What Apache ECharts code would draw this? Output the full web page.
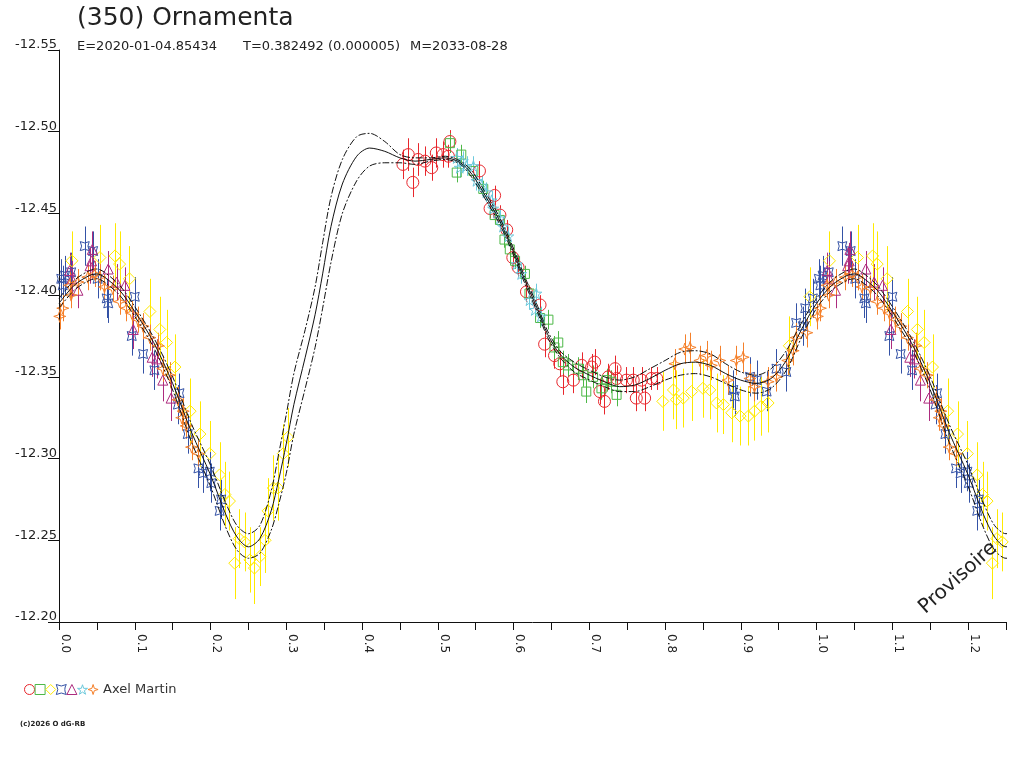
<!DOCTYPE html>
<html><head><meta charset="utf-8">
<script src="https://cdn.jsdelivr.net/npm/echarts@6/dist/echarts.min.js"></script>
<style>html,body{margin:0;padding:0;background:#fff}#c{width:1024px;height:768px}</style>
</head><body><div id="c"></div>
<script>
// ---------- fitted light curve (phase 0..1) ----------
const fitPhase = [0,0.02,0.04,0.05,0.06,0.08,0.10,0.125,0.15,0.175,
  0.20,0.22,0.235,0.25,0.265,0.28,0.29,0.30,0.31,0.325,
  0.338,0.348,0.359,0.374,0.393,0.41,0.43,0.45,0.47,0.49,
  0.51,0.53,0.545,0.565,0.58,0.595,0.615,0.632,0.645,0.661,
  0.68,0.696,0.72,0.74,0.76,0.78,0.80,0.82,0.84,0.86,
  0.88,0.90,0.92,0.94,0.96,0.98,1.00];
const fitMag = [-12.395,-12.406,-12.412,-12.413,-12.411,-12.403,-12.390,-12.371,-12.346,-12.316,
  -12.290,-12.266,-12.252,-12.246,-12.251,-12.268,-12.287,-12.309,-12.333,-12.362,
  -12.388,-12.413,-12.442,-12.468,-12.485,-12.490,-12.488,-12.484,-12.482,-12.483,
  -12.484,-12.481,-12.474,-12.459,-12.447,-12.432,-12.409,-12.391,-12.376,-12.364,
  -12.356,-12.352,-12.347,-12.344,-12.345,-12.349,-12.354,-12.358,-12.359,-12.357,
  -12.352,-12.348,-12.346,-12.349,-12.360,-12.379,-12.395];
const fitUpper = [-12.398,-12.409,-12.415,-12.416,-12.414,-12.406,-12.393,-12.374,-12.350,-12.321,
  -12.296,-12.273,-12.259,-12.254,-12.259,-12.280,-12.303,-12.327,-12.352,-12.379,
  -12.405,-12.432,-12.460,-12.483,-12.497,-12.499,-12.494,-12.486,-12.484,-12.484,
  -12.485,-12.482,-12.476,-12.461,-12.449,-12.434,-12.411,-12.393,-12.378,-12.366,
  -12.359,-12.355,-12.350,-12.348,-12.350,-12.355,-12.360,-12.365,-12.366,-12.364,
  -12.358,-12.353,-12.351,-12.355,-12.366,-12.383,-12.398];
const fitLower = [-12.392,-12.403,-12.409,-12.410,-12.408,-12.400,-12.387,-12.368,-12.342,-12.310,
  -12.283,-12.258,-12.244,-12.239,-12.242,-12.256,-12.272,-12.291,-12.315,-12.343,
  -12.368,-12.392,-12.420,-12.450,-12.470,-12.479,-12.481,-12.481,-12.480,-12.482,
  -12.483,-12.480,-12.472,-12.457,-12.445,-12.430,-12.407,-12.389,-12.374,-12.362,
  -12.353,-12.349,-12.344,-12.341,-12.341,-12.344,-12.348,-12.351,-12.352,-12.350,
  -12.346,-12.342,-12.340,-12.343,-12.354,-12.374,-12.392];

// ---------- observations (phase, reduced magnitude, error) ----------
const redPhase = [0.454,0.461,0.467,0.474,0.483,0.492,0.498,0.507,0.514,0.516,0.555,0.569,0.575,0.582,0.591,0.599,0.606,0.617,0.635,0.641,0.654,0.661,0.665,0.679,0.690,0.703,0.707,0.714,0.720,0.725,0.734,0.736,0.749,0.758,0.762,0.769,0.773,0.782,0.789];
const redMag = [-12.480,-12.486,-12.469,-12.483,-12.482,-12.478,-12.487,-12.486,-12.485,-12.494,-12.476,-12.453,-12.461,-12.449,-12.440,-12.423,-12.417,-12.402,-12.394,-12.370,-12.363,-12.358,-12.347,-12.348,-12.357,-12.356,-12.359,-12.341,-12.335,-12.350,-12.355,-12.349,-12.348,-12.348,-12.337,-12.348,-12.337,-12.349,-12.349];
const redErr = [0.009,0.010,0.009,0.010,0.009,0.008,0.009,0.008,0.007,0.007,0.006,0.006,0.006,0.006,0.006,0.006,0.006,0.006,0.006,0.008,0.008,0.008,0.008,0.008,0.008,0.008,0.008,0.008,0.008,0.008,0.008,0.008,0.008,0.008,0.008,0.008,0.008,0.007,0.007];

const greenPhase = [0.516,0.525,0.531,0.547,0.560,0.575,0.582,0.588,0.595,0.602,0.615,0.621,0.635,0.646,0.654,0.659,0.665,0.672,0.685,0.692,0.696,0.705,0.716,0.723,0.729,0.736];
const greenMag = [-12.493,-12.475,-12.486,-12.476,-12.465,-12.449,-12.446,-12.434,-12.428,-12.421,-12.413,-12.401,-12.386,-12.385,-12.368,-12.371,-12.359,-12.357,-12.355,-12.351,-12.341,-12.350,-12.343,-12.348,-12.347,-12.339];
const greenErr = [0.006,0.006,0.006,0.005,0.005,0.005,0.005,0.005,0.005,0.005,0.005,0.005,0.006,0.006,0.007,0.007,0.007,0.007,0.007,0.007,0.007,0.007,0.007,0.007,0.007,0.007];

const yellowPhase = [0.017,0.054,0.074,0.080,0.093,0.120,0.133,0.142,0.153,0.173,0.186,0.199,0.212,0.219,0.225,0.232,0.238,0.245,0.252,0.258,0.265,0.272,0.276,0.283,0.289,0.296,0.302,0.797,0.811,0.815,0.824,0.835,0.850,0.859,0.868,0.877,0.888,0.899,0.910,0.918,0.927,0.936,0.964,0.991];
const yellowMag = [-12.421,-12.423,-12.424,-12.419,-12.410,-12.390,-12.379,-12.371,-12.356,-12.329,-12.315,-12.303,-12.290,-12.278,-12.274,-12.236,-12.251,-12.249,-12.238,-12.233,-12.240,-12.250,-12.268,-12.282,-12.282,-12.303,-12.313,-12.335,-12.342,-12.336,-12.337,-12.341,-12.343,-12.342,-12.334,-12.333,-12.328,-12.326,-12.326,-12.329,-12.332,-12.334,-12.369,-12.399];
const yellowErr = [0.018,0.020,0.020,0.020,0.020,0.020,0.020,0.020,0.020,0.020,0.020,0.020,0.020,0.020,0.018,0.022,0.018,0.018,0.020,0.022,0.018,0.020,0.020,0.020,0.020,0.018,0.018,0.018,0.018,0.018,0.018,0.018,0.018,0.018,0.018,0.018,0.018,0.018,0.018,0.018,0.018,0.018,0.018,0.018];

const bluePhase = [0.003,0.005,0.008,0.016,0.034,0.045,0.051,0.063,0.065,0.096,0.100,0.111,0.126,0.157,0.159,0.170,0.184,0.190,0.199,0.201,0.212,0.214,0.890,0.892,0.912,0.921,0.934,0.947,0.960,0.973,0.982,0.985,0.995];
const blueMag = [-12.410,-12.406,-12.412,-12.414,-12.430,-12.427,-12.410,-12.398,-12.395,-12.375,-12.399,-12.364,-12.354,-12.333,-12.340,-12.315,-12.294,-12.291,-12.292,-12.285,-12.268,-12.275,-12.342,-12.338,-12.350,-12.348,-12.341,-12.355,-12.353,-12.383,-12.381,-12.392,-12.398];
const blueErr = [0.012,0.012,0.012,0.012,0.012,0.012,0.012,0.012,0.012,0.012,0.012,0.012,0.012,0.012,0.012,0.012,0.012,0.012,0.012,0.012,0.012,0.012,0.012,0.012,0.012,0.012,0.012,0.012,0.012,0.012,0.012,0.012,0.012];

const purplePhase = [0.014,0.017,0.025,0.041,0.043,0.044,0.065,0.076,0.087,0.098,0.123,0.129,0.137,0.148];
const purpleMag = [-12.415,-12.410,-12.403,-12.418,-12.421,-12.428,-12.416,-12.408,-12.406,-12.379,-12.362,-12.361,-12.348,-12.337];
const purpleErr = [0.011,0.011,0.011,0.011,0.011,0.011,0.011,0.011,0.011,0.012,0.012,0.012,0.013,0.014];

const cyanPhase = [0.525,0.529,0.533,0.538,0.547,0.551,0.558,0.564,0.571,0.573,0.582,0.586,0.593,0.604,0.610,0.621,0.628,0.630,0.636];
const cyanMag = [-12.484,-12.478,-12.482,-12.479,-12.479,-12.470,-12.467,-12.463,-12.458,-12.453,-12.447,-12.442,-12.436,-12.419,-12.413,-12.397,-12.391,-12.401,-12.387];
const cyanErr = [0.006,0.006,0.006,0.006,0.006,0.006,0.006,0.006,0.006,0.006,0.006,0.006,0.006,0.006,0.006,0.006,0.006,0.006,0.006];

const orangePhase = [0.001,0.005,0.014,0.016,0.025,0.038,0.047,0.054,0.060,0.071,0.080,0.089,0.096,0.104,0.111,0.120,0.131,0.137,0.146,0.157,0.162,0.164,0.168,0.175,0.184,0.813,0.826,0.833,0.846,0.855,0.861,0.872,0.883,0.894,0.903,0.912,0.918,0.936,0.947,0.962,0.969,0.973,0.987];
const orangeMag = [-12.387,-12.392,-12.406,-12.400,-12.408,-12.411,-12.413,-12.411,-12.405,-12.404,-12.396,-12.392,-12.389,-12.385,-12.381,-12.374,-12.369,-12.355,-12.351,-12.336,-12.325,-12.329,-12.320,-12.307,-12.303,-12.358,-12.367,-12.368,-12.360,-12.363,-12.357,-12.360,-12.348,-12.360,-12.362,-12.349,-12.344,-12.347,-12.350,-12.360,-12.366,-12.374,-12.377];
const orangeErr = [0.008,0.008,0.008,0.008,0.008,0.008,0.008,0.008,0.008,0.008,0.008,0.008,0.008,0.008,0.008,0.008,0.008,0.008,0.008,0.008,0.008,0.008,0.008,0.008,0.008,0.009,0.009,0.009,0.009,0.009,0.009,0.009,0.009,0.009,0.009,0.009,0.009,0.009,0.009,0.009,0.009,0.009,0.009];

const yTickMin = -12.55, yTickMax = -12.20, yStep = 0.05;
const xMin = 0, xMax = 1.25, xStep = 0.05;

const titleText = '(350) Ornamenta';
const subTexts = ['E=2020-01-04.85434', 'T=0.382492 (0.000005)', 'M=2033-08-28'];
const observer = 'Axel Martin';
const stamp = 'Provisoire';
const copyright = '(c)2026 O dG-RB';

// ---------- build ----------
const FF = "'DejaVu Sans', 'Liberation Sans', sans-serif";
function obs(ph, mg, er) {
  const out = [];
  for (let i = 0; i < ph.length; i++) {
    out.push([ph[i], mg[i], er[i]]);
    if (ph[i] + 1 <= 1.27) out.push([ph[i] + 1, mg[i], er[i]]);
  }
  return out;
}
function curve(ph, mg) {
  const out = [];
  for (let i = 0; i < ph.length; i++) out.push([ph[i], mg[i]]);
  for (let i = 0; i < ph.length; i++) if (ph[i] > 0 && ph[i] <= 0.28) out.push([ph[i] + 1, mg[i]]);
  return out;
}
const groups = [
  {name:'g1', color:'#e8262c', symbol:'circle', size:12, d:obs(redPhase, redMag, redErr)},
  {name:'g2', color:'#4db847', symbol:'rect', size:9, d:obs(greenPhase, greenMag, greenErr)},
  {name:'g3', color:'#ffea00', symbol:'diamond', size:12, d:obs(yellowPhase, yellowMag, yellowErr)},
  {name:'g4', color:'#3452a6', symbol:'path://M0,0 Q5,3 10,0 Q7,5 10,10 Q5,7 0,10 Q3,5 0,0 Z', size:9, d:obs(bluePhase, blueMag, blueErr)},
  {name:'g5', color:'#ad2b7e', symbol:'triangle', size:10, d:obs(purplePhase, purpleMag, purpleErr)},
  {name:'g6', color:'#6cc9dc', symbol:'path://M5,0 L6.2,3.6 L10,3.6 L6.9,5.9 L8.1,9.5 L5,7.3 L1.9,9.5 L3.1,5.9 L0,3.6 L3.8,3.6 Z', size:11, d:obs(cyanPhase, cyanMag, cyanErr)},
  {name:observer, color:'#f5802a', symbol:'path://M5,0 L6.2,3.8 L10,5 L6.2,6.2 L5,10 L3.8,6.2 L0,5 L3.8,3.8 Z', size:12, d:obs(orangePhase, orangeMag, orangeErr)}
];
const series = [];
groups.forEach(g => {
  series.push({
    type:'custom', silent:true, clip:true, z:2, data:g.d, encode:{x:0, y:1},
    renderItem:(params, api) => {
      const x = api.value(0), y = api.value(1), e = api.value(2);
      const p1 = api.coord([x, y - e]), p2 = api.coord([x, y + e]);
      const px = Math.round(p1[0]) + 0.5;
      return {type:'line', shape:{x1:px, y1:p1[1], x2:px, y2:p2[1]}, style:{stroke:g.color, lineWidth:1}};
    }
  });
  series.push({
    type:'scatter', name:g.name, data:g.d, symbol:g.symbol, symbolSize:g.size, clip:true, z:3, silent:true,
    itemStyle:{color:'rgba(0,0,0,0)', borderColor:g.color, borderWidth:1, opacity:1},
    encode:{x:0, y:1}
  });
});
const curveStyle = (type, w) => ({color:'#111', width:w, type:type});
series.push({type:'line', data:curve(fitPhase, fitUpper), smooth:0.3, symbol:'none', z:4, silent:true, lineStyle:curveStyle([7,2,2,2], 1)});
series.push({type:'line', data:curve(fitPhase, fitLower), smooth:0.3, symbol:'none', z:4, silent:true, lineStyle:curveStyle([7,2,2,2], 1)});
series.push({type:'line', data:curve(fitPhase, fitMag), smooth:0.3, symbol:'none', z:4, silent:true, lineStyle:curveStyle('solid', 1)});

const option = {
  animation:false,
  backgroundColor:'#fff',
  grid:{left:59, right:18, top:50, bottom:146, containLabel:false},
  xAxis:{
    type:'value', min:xMin, max:xMax, interval:xStep,
    axisLine:{show:true, onZero:false, lineStyle:{color:'#111', width:1}},
    axisTick:{show:true, length:8, inside:false, lineStyle:{color:'#111'}},
    splitLine:{show:false},
    axisLabel:{rotate:-90, margin:12, fontSize:12, color:'#222', fontFamily:FF, verticalAlign:'bottom', lineHeight:12,
      showMaxLabel:true, showMinLabel:true,
      formatter:v => (Math.round(v*100) % 10 === 0) ? v.toFixed(1) : ''}
  },
  yAxis:{
    type:'value', min:yTickMin, max:yTickMax, interval:yStep, inverse:true,
    axisLine:{show:true, onZero:false, lineStyle:{color:'#111', width:1}},
    axisTick:{show:true, length:11, inside:false, lineStyle:{color:'#111'}},
    splitLine:{show:false},
    axisLabel:{margin:2, fontSize:13, color:'#222', fontFamily:FF, verticalAlign:'bottom', lineHeight:10,
      showMinLabel:true, showMaxLabel:true, formatter:v => v.toFixed(2)}
  },
  legend:{
    left:19, top:678, itemWidth:10, itemHeight:10, itemGap:-0.4, selectedMode:false,
    data:groups.map(g => g.name),
    formatter:n => n === observer ? n : '',
    itemStyle:{borderWidth:1},
    textStyle:{fontSize:13, color:'#333', fontFamily:FF}
  },
  graphic:[
    {type:'text', left:77, top:6, style:{text:titleText, font:'25px ' + FF, fill:'#222'}},
    {type:'text', left:77, top:40, style:{text:subTexts[0], font:'13px ' + FF, fill:'#222'}},
    {type:'text', left:243, top:40, style:{text:subTexts[1], font:'13px ' + FF, fill:'#222'}},
    {type:'text', left:410, top:40, style:{text:subTexts[2], font:'13px ' + FF, fill:'#222'}},
    {type:'text', left:20, top:721, style:{text:copyright, font:'bold 7px ' + FF, fill:'#222'}},
    {type:'text', x:958, y:578, rotation:0.73, z:10, style:{text:stamp, font:'20px ' + FF, fill:'#222', align:'center', verticalAlign:'middle'}}
  ],
  series:series
};
const chart = echarts.init(document.getElementById('c'));
chart.setOption(option);
</script>
</body></html>
